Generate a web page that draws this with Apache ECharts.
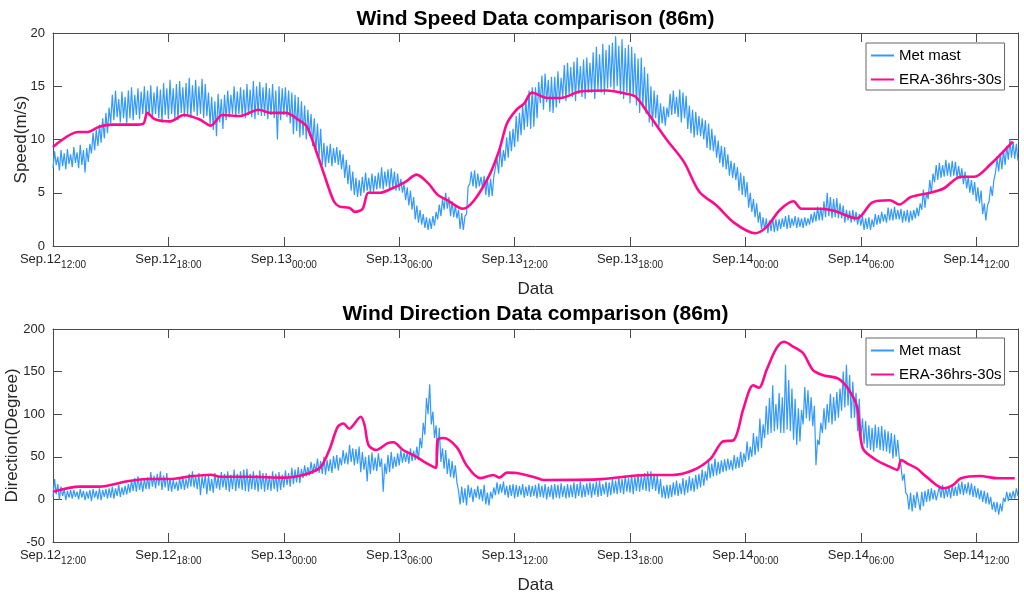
<!DOCTYPE html>
<html><head><meta charset="utf-8">
<script src="https://cdn.jsdelivr.net/npm/echarts@6/dist/echarts.min.js"></script>
<style>html,body{margin:0;padding:0;background:#fff}#c{width:1024px;height:593px}</style>
</head><body><div id="c"></div>
<script>
// ---- tick labels (every 6 hours from Sep.12 12:00) ----
const tickDays  = ['Sep.12','Sep.12','Sep.13','Sep.13','Sep.13','Sep.13','Sep.14','Sep.14','Sep.14'];
const tickTimes = ['12:00','18:00','00:00','06:00','12:00','18:00','00:00','06:00','12:00'];
const xMaxHours = 50.17;       // end of record, hours after Sep.12 12:00
const metStepHours = 1 / 12;   // met mast samples every 5 minutes

// ---- Met mast wind speed (m/s), 5-min samples, one row per hour ----
const metSpeed = [
 7.3, 8.9, 7.6, 8.4, 7.1, 9.0, 7.5, 8.7, 7.2, 9.1, 7.7, 8.6,
 7.4, 9.3, 7.8, 8.8, 7.3, 9.5, 7.6, 9.0, 6.9, 9.2, 7.9, 9.6,
 8.7, 10.6, 9.0, 10.9, 9.4, 11.4, 9.7, 12.0, 10.1, 12.5, 10.6, 13.0,
 11.5, 14.2, 11.8, 14.6, 12.1, 13.8, 11.6, 14.5, 12.0, 14.0, 11.5, 14.6,
 12.0, 14.9, 11.8, 14.2, 12.3, 14.8, 11.9, 14.5, 12.4, 15.0, 12.0, 14.6,
 12.2, 15.1, 11.9, 14.4, 12.4, 15.0, 12.0, 14.7, 11.6, 15.3, 12.3, 14.8,
 11.9, 15.6, 12.4, 14.8, 12.0, 15.2, 11.8, 15.5, 12.5, 14.9, 12.1, 15.3,
 12.3, 15.8, 12.0, 15.1, 12.6, 15.6, 12.2, 15.0, 12.4, 15.7, 12.0, 15.2,
 12.2, 14.4, 11.4, 14.0, 10.9, 13.6, 10.3, 14.3, 11.6, 13.8, 11.0, 14.2,
 11.8, 14.6, 12.1, 14.2, 12.4, 15.0, 12.1, 14.5, 12.4, 14.9, 12.2, 14.7,
 12.0, 15.2, 12.3, 14.7, 12.1, 15.5, 11.9, 15.0, 12.3, 15.4, 12.2, 14.9,
 12.2, 15.3, 11.9, 14.8, 12.3, 15.2, 12.0, 14.6, 10.0, 15.0, 11.8, 14.8,
 12.3, 14.9, 12.1, 14.6, 11.5, 14.4, 10.5, 14.2, 10.8, 14.0, 10.2, 13.6,
 10.4, 13.2, 10.0, 12.8, 10.3, 12.4, 9.4, 12.0, 8.8, 11.5, 8.4, 11.0,
 7.6, 9.7, 7.4, 9.4, 7.8, 9.6, 7.5, 9.2, 7.8, 9.3, 7.6, 9.0,
 7.2, 8.6, 6.4, 8.1, 5.8, 7.6, 5.2, 7.0, 4.8, 6.4, 4.6, 6.2,
 4.7, 6.5, 5.0, 6.9, 5.2, 6.4, 5.0, 6.8, 5.1, 6.6, 5.3, 6.9,
 5.4, 7.4, 5.3, 7.0, 5.6, 7.2, 5.3, 7.3, 5.5, 7.0, 5.2, 6.8,
 5.2, 6.3, 5.0, 5.8, 4.3, 5.5, 3.8, 5.2, 3.4, 4.6, 2.5, 3.8,
 2.2, 3.4, 2.0, 3.0, 1.7, 2.7, 1.5, 2.6, 1.6, 2.8, 1.9, 3.2,
 2.5, 3.9, 2.8, 4.4, 3.4, 5.0, 3.5, 4.6, 2.8, 4.2, 2.7, 3.8,
 2.6, 3.4, 1.6, 3.1, 1.5, 2.8, 3.0, 5.6, 5.8, 7.0, 5.6, 7.1,
 5.4, 6.8, 5.6, 6.5, 5.4, 6.6, 4.8, 6.4, 4.6, 6.3, 4.7, 6.5,
 6.5, 8.2, 6.8, 9.3, 7.4, 9.0, 8.0, 10.2, 8.3, 10.8, 8.9, 11.0,
 9.3, 12.2, 9.8, 12.5, 10.4, 13.2, 10.9, 13.8, 11.2, 14.6, 11.0, 14.9,
 11.2, 14.9, 12.0, 15.4, 13.4, 16.0, 12.8, 16.2, 13.5, 15.6, 12.6, 15.9,
 12.5, 15.9, 13.0, 16.4, 13.4, 15.8, 14.0, 17.0, 13.6, 17.2, 14.2, 16.8,
 14.0, 17.3, 13.6, 17.7, 14.3, 16.9, 14.0, 17.5, 13.8, 17.7, 14.4, 17.2,
 14.4, 18.2, 13.8, 18.7, 14.6, 18.0, 14.4, 19.0, 14.2, 18.4, 14.8, 18.9,
 14.9, 19.1, 14.6, 19.7, 15.0, 18.8, 14.2, 19.4, 13.8, 18.6, 14.4, 18.9,
 13.4, 18.7, 14.0, 18.1, 13.2, 17.6, 12.5, 17.7, 13.0, 16.8, 12.4, 16.2,
 11.6, 15.0, 11.2, 14.6, 12.0, 14.2, 11.2, 13.4, 11.5, 13.1, 11.3, 13.0,
 12.1, 14.3, 12.3, 14.6, 12.4, 14.0, 12.1, 14.7, 11.6, 14.4, 12.0, 14.1,
 11.0, 13.2, 10.6, 12.8, 10.2, 12.6, 10.4, 12.2, 10.3, 12.0, 10.0, 11.8,
 9.2, 11.5, 9.0, 11.0, 8.9, 10.4, 8.3, 9.9, 7.8, 9.4, 7.4, 9.3,
 7.2, 8.6, 6.6, 8.0, 6.4, 7.8, 6.2, 7.4, 5.2, 6.9, 4.8, 6.6,
 4.6, 6.0, 3.6, 5.0, 3.2, 4.4, 2.7, 4.0, 2.2, 3.2, 1.6, 2.7,
 1.5, 2.6, 1.2, 2.4, 1.4, 2.7, 1.3, 2.5, 1.4, 2.5, 1.6, 2.6,
 1.8, 2.8, 1.6, 2.9, 1.7, 2.6, 1.9, 2.8, 1.7, 2.7, 1.8, 2.6,
 1.7, 2.7, 1.9, 2.6, 2.0, 3.0, 2.2, 3.2, 2.3, 3.7, 2.4, 3.6,
 2.4, 4.2, 2.7, 5.0, 2.8, 4.6, 2.6, 4.4, 2.7, 4.5, 2.6, 4.0,
 2.6, 3.8, 2.2, 3.4, 2.4, 3.3, 2.2, 3.4, 2.3, 3.2, 2.0, 3.0,
 1.9, 2.8, 1.5, 2.6, 1.6, 2.7, 1.5, 2.5, 1.8, 3.0, 2.0, 2.9,
 2.1, 3.2, 2.3, 3.0, 2.2, 3.6, 2.4, 3.5, 2.4, 3.7, 2.5, 3.4,
 2.5, 3.5, 2.2, 3.3, 2.3, 3.4, 2.2, 3.3, 2.4, 3.4, 2.6, 3.6,
 2.8, 4.0, 3.4, 5.3, 3.6, 5.0, 4.4, 6.2, 5.0, 6.8, 6.0, 7.6,
 6.2, 7.8, 6.4, 7.6, 6.5, 8.1, 6.6, 7.8, 6.5, 8.0, 6.6, 7.9,
 6.4, 7.5, 6.3, 7.3, 5.8, 7.0, 5.4, 6.5, 5.0, 6.2, 4.8, 6.0,
 4.2, 5.5, 4.0, 5.2, 3.0, 4.0, 2.4, 3.8, 4.2, 5.6, 4.7, 6.2,
 6.9, 8.2, 7.0, 8.7, 7.2, 9.0, 7.6, 9.4, 8.1, 10.0, 8.3, 9.8,
 8.2, 9.6, 8.0
];

// ---- Met mast wind direction (degree), 5-min samples, one row per hour ----
const metDir = [
 3, 24, 6, 18, 0, 15, 4, 12, -1, 10, 2, 11,
 1, 11, 3, 9, 0, 12, 2, 10, -1, 9, 1, 11,
 -2, 12, 2, 10, 0, 13, -1, 11, 3, 12, 1, 13,
 2, 15, 1, 13, 4, 17, 3, 14, 5, 16, 6, 18,
 8, 22, 10, 25, 9, 27, 11, 23, 9, 24, 12, 26,
 12, 32, 15, 28, 13, 30, 16, 33, 11, 28, 14, 31,
 10, 25, 9, 23, 12, 21, 10, 25, 12, 27, 11, 24,
 13, 30, 15, 33, 14, 28, 12, 31, 5, 27, 13, 29,
 6, 28, 10, 24, 8, 31, 13, 27, 11, 32, 14, 30,
 11, 33, 9, 29, 12, 35, 10, 30, 13, 33, 11, 35,
 10, 36, 9, 30, 12, 33, 11, 29, 9, 34, 12, 31,
 9, 31, 11, 28, 10, 33, 12, 30, 9, 32, 11, 29,
 14, 34, 17, 31, 15, 37, 18, 35, 20, 38, 19, 36,
 25, 40, 27, 38, 28, 44, 30, 42, 32, 48, 31, 45,
 30, 50, 29, 46, 33, 47, 31, 51, 36, 52, 34, 49,
 40, 58, 42, 55, 41, 64, 44, 60, 40, 59, 42, 62,
 32, 56, 35, 50, 21, 52, 30, 55, 34, 49, 33, 54,
 38, 48, 9, 42, 30, 52, 32, 56, 36, 50, 38, 54,
 40, 58, 43, 55, 44, 56, 42, 60, 45, 57, 46, 62,
 46, 72, 60, 90, 76, 119, 100, 135, 88, 103, 72, 87,
 50, 84, 44, 60, 36, 58, 30, 48, 26, 45, 25, 40,
 20, 10, -6, 15, -4, 13, -7, 17, 2, 14, -3, 12,
 2, 16, 0, 12, -2, 17, -6, 8, -7, 9, 1, 14,
 5, 20, 6, 18, 8, 21, 5, 16, 2, 17, 4, 18,
 1, 17, 3, 16, 5, 18, 2, 15, 4, 17, 3, 16,
 4, 17, 1, 19, 3, 16, 2, 18, 0, 15, 3, 17,
 0, 18, 2, 17, 1, 19, 3, 16, 1, 18, 2, 17,
 3, 20, 1, 18, 4, 21, 2, 17, 3, 19, 5, 20,
 2, 19, 5, 21, 3, 22, 4, 18, 6, 21, 3, 20,
 5, 24, 7, 22, 6, 26, 8, 24, 6, 28, 9, 25,
 8, 29, 6, 27, 10, 30, 9, 28, 11, 31, 10, 33,
 9, 33, 12, 30, 10, 28, 6, 24, 2, 16, 1, 17,
 1, 17, 3, 20, 5, 22, 4, 19, 6, 25, 5, 23,
 8, 27, 10, 25, 9, 29, 12, 30, 14, 35, 16, 33,
 22, 45, 25, 42, 27, 48, 28, 44, 30, 46, 32, 47,
 33, 48, 35, 46, 34, 52, 36, 50, 37, 56, 38, 54,
 44, 68, 46, 62, 50, 78, 52, 74, 56, 95, 60, 88,
 72, 110, 76, 119, 78, 134, 80, 112, 82, 125, 78, 120,
 78, 158, 82, 140, 80, 130, 70, 118, 64, 107, 68, 105,
 88, 132, 95, 128, 92, 120, 86, 110, 40, 70, 64, 90,
 78, 107, 82, 112, 90, 124, 88, 120, 92, 126, 96, 130,
 104, 150, 108, 158, 110, 146, 95, 138, 96, 125, 80, 118,
 72, 95, 65, 92, 60, 87, 58, 84, 56, 88, 60, 85,
 58, 86, 57, 82, 56, 80, 54, 78, 48, 76, 50, 70,
 48, 40, 22, 30, 8, 5, -12, 8, -14, 5, -10, 9,
 8, -13, 9, -8, 10, -3, 12, -2, 13, 0, 11, -1,
 0, 15, 2, 17, 1, 14, 3, 16, 1, 17, 4, 15,
 4, 19, 6, 21, 5, 18, 7, 20, 5, 19, 3, 16,
 2, 13, 0, 11, -3, 10, -5, 8, -6, 3, -12, -3,
 -15, -3, -18, -5, -14, 2, -3, 9, -2, 8, 0, 10,
 1, 13, 4
];

// ---- ERA-36hrs-30s wind speed ----
const eraSpeedHours = [0,1.3,1.8,2.4,3.1,4.2,4.7,4.9,5.3,6.1,6.8,7.6,8.2,8.8,9.7,10.7,11.3,12.1,12.8,13.2,13.8,14.1,14.6,14.9,15.4,15.7,16.1,16.4,17.0,17.5,18.3,18.9,19.5,20.0,20.5,21.3,21.9,22.7,23.2,23.6,24.1,24.5,24.9,25.7,26.4,27.4,28.8,29.8,30.3,31.0,31.9,32.8,33.6,34.5,35.4,36.5,37.1,37.8,38.5,38.9,39.9,40.6,41.8,42.6,43.5,44.0,44.6,45.6,46.3,47.2,47.9,48.7,49.9];
const eraSpeed      = [9.3,10.7,10.7,11.2,11.4,11.4,11.5,12.5,11.9,11.7,12.3,11.9,11.3,12.3,12.2,12.8,12.5,12.5,11.8,11.2,8.3,6.7,4.2,3.7,3.6,3.2,3.5,5.0,5.0,5.3,6.0,6.7,5.9,4.8,4.3,3.5,4.3,6.7,9.0,11.5,12.8,13.4,14.4,13.9,13.9,14.5,14.6,14.3,14.0,12.3,10.0,7.9,5.1,3.8,2.2,1.2,1.8,3.4,4.2,3.5,3.5,3.3,2.6,4.1,4.3,3.9,4.6,5.0,5.4,6.5,6.5,7.6,9.8];

// ---- ERA-36hrs-30s wind direction ----
const eraDirHours = [0,1.4,2.4,3.8,4.9,6.2,7.1,8.2,8.7,10.2,12.0,13.0,13.7,14.0,14.4,14.8,15.1,15.4,16.0,16.2,16.4,16.8,17.4,17.7,18.2,18.9,19.3,19.9,20.0,20.3,21.0,21.5,22.2,22.9,23.2,23.6,24.1,25.2,25.5,28.3,30.9,32.2,33.3,34.2,34.8,35.4,35.9,36.4,36.7,37.1,37.6,38.0,38.5,39.0,39.5,40.0,40.8,41.3,41.8,42.1,42.8,43.5,43.9,44.1,44.4,44.9,45.4,46.3,46.8,47.2,48.2,49.1,50.0];
const eraDir      = [9,15,15,21,24,24,27,29,26.5,26.5,25.5,28.6,34.5,40.4,60,85,89,83,97,87,64,58,66,67,58,50,44,37,70,72,61,40,25,28.6,25.5,31.4,31,24.8,22.8,23.5,28.6,28.6,34.5,48.2,67.7,69.7,107,134,131,152,177,185,179,171.5,152,146,142,131,109,60,46.2,38.4,34.5,46.2,42.3,36.5,26.7,13,17,24.8,27.5,24.8,24.8];

// ---- build chart ----
const FONT = '"Liberation Sans", Arial, Helvetica, sans-serif';
const BLUE = '#3399ff';
const PINK = '#ff0a8c';
const AX = '#4a4a4a';
const TXT = '#262626';

const toPairs = (xs, ys) => ys.map((v, i) => [xs[i], v]);
const metPairs = arr => arr.map((v, i) => [i * metStepHours, v]);

function xLabel(value) {
  const k = Math.round(value / 6);
  if (Math.abs(value - k * 6) > 1e-6 || k >= tickDays.length) return '';
  return '{a|' + tickDays[k] + '}{b|' + tickTimes[k] + '}';
}

const grids = [
  {left: 53, top: 33, width: 965, height: 213, containLabel: false, outerBoundsMode: 'none'},
  {left: 53, top: 329, width: 965, height: 213, containLabel: false, outerBoundsMode: 'none'}
];

const lineAx = {show: true, onZero: false, lineStyle: {color: AX, width: 1}};
const tickAx = {show: true, inside: true, length: 9, lineStyle: {color: AX}};

function xAxes(gi) {
  return [{
    type: 'value', gridIndex: gi, position: 'bottom', min: 0, max: xMaxHours, interval: 6,
    name: 'Data', nameLocation: 'middle', nameGap: 35, nameMoveOverlap: false,
    nameTextStyle: {fontFamily: FONT, fontSize: 17, color: TXT},
    axisLine: lineAx, axisTick: tickAx, splitLine: {show: false},
    axisLabel: {
      margin: 9, formatter: xLabel, showMaxLabel: false,
      rich: {
        a: {fontFamily: FONT, fontSize: 13, color: TXT, lineHeight: 15, padding: [0, 0, 6, 0]},
        b: {fontFamily: FONT, fontSize: 10, color: TXT, lineHeight: 12, verticalAlign: 'bottom'}
      }
    }
  }, {
    type: 'value', gridIndex: gi, position: 'top', min: 0, max: xMaxHours, interval: 6,
    axisLine: lineAx, axisTick: tickAx, axisLabel: {show: false}, splitLine: {show: false}
  }];
}

function yAxes(gi, min, max, interval, name, gap) {
  return [{
    type: 'value', gridIndex: gi, position: 'left', min: min, max: max, interval: interval,
    name: name, nameLocation: 'middle', nameGap: gap, nameMoveOverlap: false,
    nameTextStyle: {fontFamily: FONT, fontSize: 17, color: TXT},
    axisLine: lineAx, axisTick: tickAx, splitLine: {show: false},
    axisLabel: {fontFamily: FONT, fontSize: 13, color: TXT, margin: 8}
  }, {
    type: 'value', gridIndex: gi, position: 'right', min: min, max: max, interval: interval,
    axisLine: lineAx, axisTick: tickAx, axisLabel: {show: false}, splitLine: {show: false}
  }];
}

function legend(top) {
  return {
    left: 866, top: top, orient: 'vertical', itemWidth: 23, itemHeight: 14, itemGap: 9,
    padding: [5, 3, 3, 4], borderColor: '#666', borderWidth: 1, backgroundColor: '#fff',
    itemStyle: {opacity: 0, borderWidth: 0},
    textStyle: {fontFamily: FONT, fontSize: 15, color: '#000'},
    data: ['Met mast', 'ERA-36hrs-30s']
  };
}

const titleStyle = {font: 'bold 21px ' + FONT, fill: '#000', align: 'center', verticalAlign: 'middle', textAlign: 'center', textVerticalAlign: 'middle'};

const option = {
  animation: false,
  backgroundColor: '#fff',
  grid: grids,
  xAxis: [...xAxes(0), ...xAxes(1)],
  yAxis: [...yAxes(0, 0, 20, 5, 'Speed(m/s)', 23), ...yAxes(1, -50, 200, 50, 'Direction(Degree)', 32)],
  legend: [legend(43), legend(338)],
  graphic: [
    {type: 'text', x: 535.5, y: 19, silent: true, style: Object.assign({text: 'Wind Speed Data comparison (86m)'}, titleStyle)},
    {type: 'text', x: 535.5, y: 314.5, silent: true, style: Object.assign({text: 'Wind Direction Data comparison (86m)'}, titleStyle)}
  ],
  series: [
    {name: 'Met mast', type: 'line', xAxisIndex: 0, yAxisIndex: 0, data: metPairs(metSpeed), symbol: 'none', sampling: null, lineStyle: {color: BLUE, width: 1.2}, itemStyle: {color: BLUE}, z: 2},
    {name: 'ERA-36hrs-30s', type: 'line', xAxisIndex: 0, yAxisIndex: 0, data: toPairs(eraSpeedHours, eraSpeed), symbol: 'none', smooth: 0.3, lineStyle: {color: PINK, width: 2.6}, itemStyle: {color: PINK}, z: 3},
    {name: 'Met mast', type: 'line', xAxisIndex: 2, yAxisIndex: 2, data: metPairs(metDir), symbol: 'none', sampling: null, lineStyle: {color: BLUE, width: 1.2}, itemStyle: {color: BLUE}, z: 2},
    {name: 'ERA-36hrs-30s', type: 'line', xAxisIndex: 2, yAxisIndex: 2, data: toPairs(eraDirHours, eraDir), symbol: 'none', smooth: 0.3, lineStyle: {color: PINK, width: 2.6}, itemStyle: {color: PINK}, z: 3}
  ]
};

const chart = echarts.init(document.getElementById('c'), null, {renderer: 'canvas'});
chart.setOption(option);
</script>
</body></html>
